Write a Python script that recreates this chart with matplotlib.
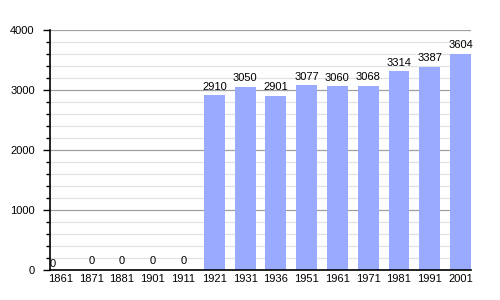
import matplotlib
matplotlib.use('Agg')
import matplotlib.pyplot as plt
from matplotlib.ticker import MultipleLocator

years = ['1861', '1871', '1881', '1901', '1911', '1921', '1931', '1936',
         '1951', '1961', '1971', '1981', '1991', '2001']
population = [0, 0, 0, 0, 0, 2910, 3050, 2901, 3077, 3060, 3068, 3314, 3387, 3604]

plt.rcParams['font.family'] = ['Liberation Sans', 'DejaVu Sans']

fig = plt.figure(figsize=(5, 3), dpi=100)
ax = fig.add_axes([0.1, 0.1, 0.842, 0.8])

x = list(range(len(years)))
ax.bar(x, population, width=0.68, color='#99aaff', zorder=3)

# value labels above the bars
for i, v in enumerate(population):
    if i == 0:
        ax.text(-0.34, v + 20, str(v), ha='left', va='bottom', fontsize=8, zorder=4)
    else:
        ax.text(i, v + 60, str(v), ha='center', va='bottom', fontsize=8, zorder=4)

ax.set_xlim(-0.34, 13.34)
ax.set_ylim(0, 4000)
ax.set_xticks(x)
ax.set_xticklabels(years, fontsize=8)
ax.yaxis.set_major_locator(MultipleLocator(1000))
ax.yaxis.set_minor_locator(MultipleLocator(200))
ax.tick_params(axis='y', labelsize=8, length=5, width=1, pad=6)
ax.tick_params(axis='y', which='minor', length=3, width=1)
ax.tick_params(axis='x', length=0, pad=3)

ax.grid(axis='y', which='major', color='#a0a0a0', linewidth=0.9, zorder=1)
ax.grid(axis='y', which='minor', color='#e2e2e2', linewidth=0.9, zorder=0)

for s in ['top', 'right']:
    ax.spines[s].set_visible(False)
ax.spines['left'].set_linewidth(1.2)
ax.spines['bottom'].set_linewidth(1.2)
ax.spines['left'].set_zorder(5)
ax.spines['bottom'].set_zorder(5)

fig.savefig('out.png', dpi=100)
